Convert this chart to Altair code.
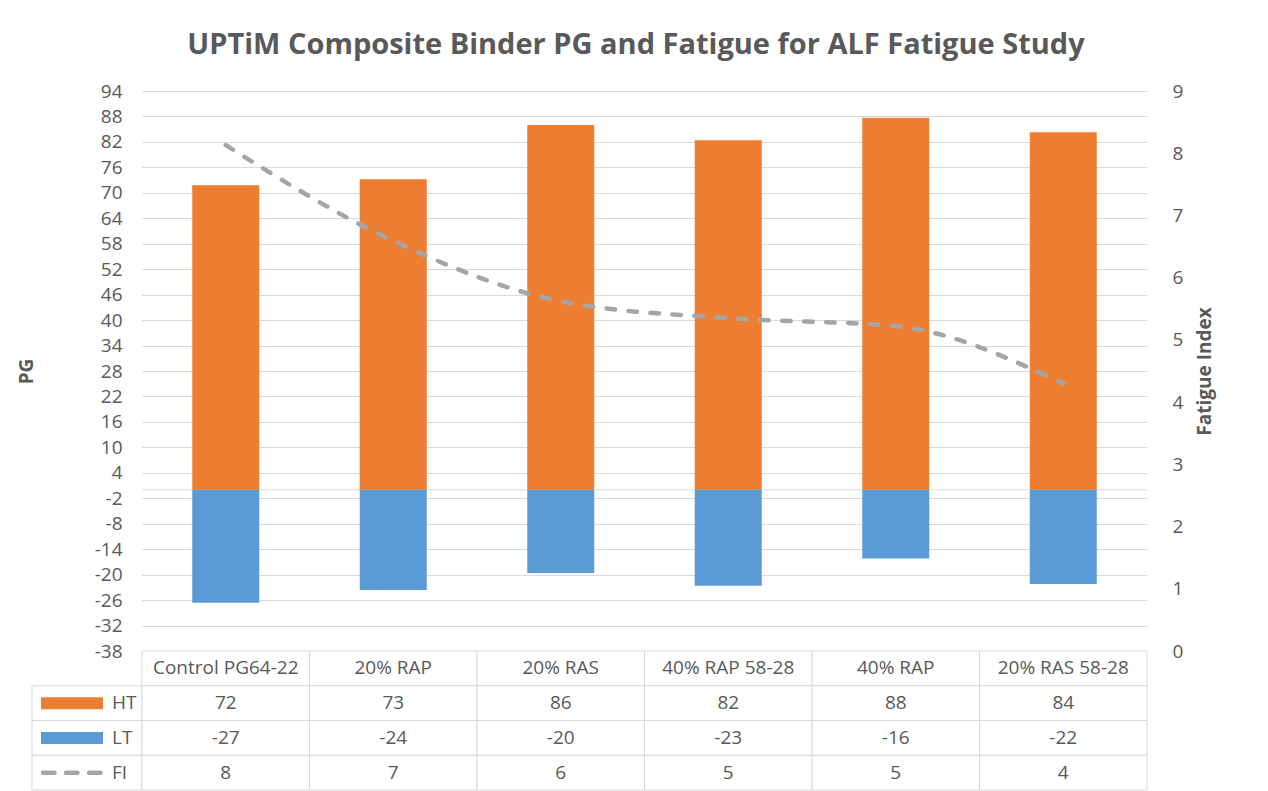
import altair as alt
import pandas as pd

# ---------------- data ----------------
categories = ["Control PG64-22", "20% RAP", "20% RAS", "40% RAP 58-28", "40% RAP", "20% RAS 58-28"]
ht_values = [71.8, 73.2, 86.0, 82.4, 87.7, 84.3]
lt_values = [-26.6, -23.6, -19.6, -22.6, -16.2, -22.2]
fi_values = [8.13, 6.59, 5.62, 5.35, 5.22, 4.30]
series_names = ["HT", "LT", "FI"]
series_colors = ["#ED7D31", "#5B9BD5", "#A5A5A5"]
pg_ticks = list(range(-38, 95, 6))
fi_ticks = list(range(0, 10))
title_text = "UPTiM Composite Binder PG and Fatigue for ALF Fatigue Study"

# ---------------- style ----------------
FONT = "Open Sans"
TXT = "#595959"
GRID = "#D9D9D9"
W, H, H_TAB, KEY_W = 1005, 560, 139, 110
FS = 19

bars_df = pd.DataFrame({
    "category": categories * 2,
    "series": ["HT"] * len(categories) + ["LT"] * len(categories),
    "value": ht_values + lt_values,
})
fi_df = pd.DataFrame({"category": categories, "series": ["FI"] * len(categories), "fi": fi_values})
zero_df = pd.DataFrame({"value": [0]})

color_scale = alt.Scale(domain=series_names, range=series_colors)
x_top = alt.X("category:N", sort=categories,
              scale=alt.Scale(paddingInner=0.6, paddingOuter=0.3), axis=None)
pg_scale = alt.Scale(domain=[-38, 94], nice=False)
pg_axis = alt.Axis(values=pg_ticks, title="PG", grid=True, gridColor=GRID, gridWidth=1,
                   domain=False, ticks=False, labelPadding=20, labelFontSize=FS,
                   labelColor=TXT, labelFont=FONT, titleFont=FONT, titleFontSize=19,
                   titleFontWeight="bold", titleColor=TXT, titlePadding=58)

zero_rule = alt.Chart(zero_df).mark_rule(color=GRID, strokeWidth=1).encode(
    y=alt.Y("value:Q", scale=pg_scale, axis=pg_axis)
)
bars = alt.Chart(bars_df).mark_bar().encode(
    x=x_top,
    y=alt.Y("value:Q", scale=pg_scale, axis=pg_axis, stack=None),
    color=alt.Color("series:N", scale=color_scale, legend=None),
)
line = alt.Chart(fi_df).mark_line(
    strokeWidth=4.5, strokeDash=[8.5, 13.5], strokeCap="round", interpolate="monotone"
).encode(
    x=x_top,
    y=alt.Y("fi:Q", scale=alt.Scale(domain=[0, 9], nice=False),
            axis=alt.Axis(orient="right", values=fi_ticks, title="Fatigue Index", grid=False,
                          domain=False, ticks=False, labelPadding=25, labelFontSize=FS,
                          labelColor=TXT, labelFont=FONT, titleFont=FONT, titleFontSize=19,
                          titleFontWeight="bold", titleColor=TXT, titleAngle=270,
                          titleBaseline="top", titlePadding=13)),
    color=alt.Color("series:N", scale=color_scale, legend=None),
)
top = alt.layer(alt.layer(zero_rule, bars), line).resolve_scale(y="independent").properties(
    width=W, height=H)

# ---------------- data table ----------------
row_order = ["header"] + series_names
cell_df = pd.DataFrame({
    "category": [c for r in row_order for c in categories],
    "row": [r for r in row_order for c in categories],
})
x_tab = alt.X("category:N", sort=categories, scale=alt.Scale(paddingInner=0, paddingOuter=0), axis=None)
y_tab = alt.Y("row:N", sort=row_order, scale=alt.Scale(domain=row_order, paddingInner=0, paddingOuter=0),
              axis=None)
cells = alt.Chart(cell_df).mark_rect(fill="white", stroke=GRID, strokeWidth=1).encode(x=x_tab, y=y_tab)
header_df = pd.DataFrame({"category": categories, "row": ["header"] * len(categories)})
header_text = alt.Chart(header_df).mark_text(font=FONT, fontSize=FS, color=TXT).encode(
    x=x_tab, y=y_tab, text="category:N")
vals_df = pd.DataFrame({
    "category": categories * 3,
    "row": ["HT"] * 6 + ["LT"] * 6 + ["FI"] * 6,
    "value": ht_values + lt_values + fi_values,
})
value_text = alt.Chart(vals_df).mark_text(font=FONT, fontSize=FS, color=TXT).encode(
    x=x_tab, y=y_tab, text=alt.Text("value:Q", format=".0f"))
table = alt.layer(cells, header_text, value_text).properties(width=W, height=H_TAB)

# ---------------- key column ----------------
key_df = pd.DataFrame({"row": series_names})
key_cells = alt.Chart(key_df).mark_rect(fill="white", stroke=GRID, strokeWidth=1).encode(
    x=alt.value(0), x2=alt.value(KEY_W), y=y_tab)
key_bars = alt.Chart(key_df).transform_filter("datum.row != 'FI'").mark_tick(
    orient="horizontal", size=62, thickness=12, opacity=1).encode(
    x=alt.value(40), y=y_tab, color=alt.Color("row:N", scale=color_scale, legend=None))
key_line = alt.Chart(key_df).transform_filter("datum.row == 'FI'").mark_rule(
    strokeWidth=4.5, strokeDash=[11.5, 11.5], strokeCap="round").encode(
    x=alt.value(11), x2=alt.value(69), y=y_tab, color=alt.Color("row:N", scale=color_scale, legend=None))
key_text = alt.Chart(key_df).mark_text(font=FONT, fontSize=FS, color=TXT, align="left").encode(
    x=alt.value(80), y=y_tab, text="row:N")
keycol = alt.layer(key_cells, key_bars, key_line, key_text).properties(width=KEY_W, height=H_TAB)

placeholder = alt.Chart(zero_df).mark_point(opacity=0).properties(width=KEY_W, height=H)

chart = alt.concat(placeholder, top, keycol, table, columns=2, spacing=0, bounds="flush").properties(
    title=alt.Title(title_text, font=FONT, fontSize=29, fontWeight="bold", color=TXT,
                    anchor="middle", offset=22, dx=20),
    padding={"left": 9, "top": 23, "right": 5, "bottom": 5},
    background="white",
).configure(
    locale=alt.Locale(number=alt.NumberLocale(decimal=".", thousands=",", grouping=[3],
                                              currency=["$", ""], minus="-")),
    view=alt.ViewConfig(stroke=None),
)

chart.save("out.html", embed_options={"renderer": "svg", "actions": False})
